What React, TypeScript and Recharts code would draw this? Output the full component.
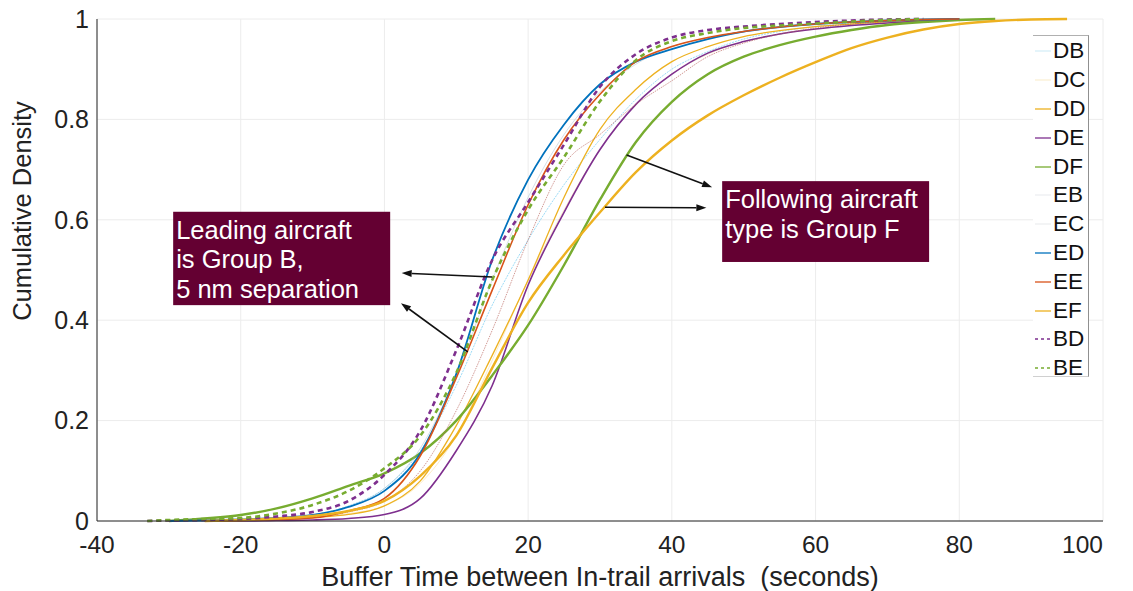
import React from "react";
import {
  LineChart, Line, XAxis, YAxis, CartesianGrid, ReferenceArea, ReferenceLine, Label,
} from "recharts";

// buffer time sample points (seconds)
const xs = [-33, -30, -25, -20, -15, -10, -5, 0, 5, 10, 15, 20, 25, 30, 35, 40, 45, 50, 55, 60, 65, 70, 75, 80, 85, 90, 95];

// empirical CDFs per leader/follower pair
const DB = [null, null, 0, 0.002, 0.005, 0.012, 0.03, 0.065, 0.14, 0.27, 0.43, 0.56, 0.67, 0.76, 0.84, 0.9, 0.935, 0.96, 0.975, 0.985, 0.992, 0.996, 0.999, 1, null, null, null];
const DC = [null, null, 0, 0.001, 0.003, 0.007, 0.015, 0.03, 0.075, 0.17, 0.32, 0.48, 0.62, 0.74, 0.83, 0.89, 0.93, 0.955, 0.97, 0.98, 0.988, 0.994, 0.998, 1, null, null, null];
const DD = [null, null, 0, 0.001, 0.003, 0.007, 0.013, 0.03, 0.08, 0.19, 0.33, 0.48, 0.645, 0.78, 0.86, 0.915, 0.945, 0.965, 0.977, 0.985, 0.99, 0.995, 0.998, 1, null, null, null];
const DE = [null, null, 0, 0, 0.001, 0.002, 0.005, 0.013, 0.045, 0.14, 0.27, 0.47, 0.615, 0.74, 0.83, 0.89, 0.932, 0.955, 0.97, 0.98, 0.987, 0.992, 0.996, 1, null, null, null];
const DF = [null, 0, 0.005, 0.012, 0.025, 0.045, 0.07, 0.095, 0.135, 0.2, 0.29, 0.39, 0.51, 0.64, 0.755, 0.835, 0.89, 0.925, 0.948, 0.965, 0.978, 0.988, 0.994, 0.998, 1, null, null];
const EB = [null, null, 0, 0.002, 0.005, 0.012, 0.028, 0.065, 0.145, 0.29, 0.48, 0.645, 0.77, 0.855, 0.91, 0.945, 0.962, 0.975, 0.984, 0.99, 0.994, 0.997, 0.999, 1, null, null, null];
const EC = [null, null, 0, 0.001, 0.003, 0.008, 0.018, 0.04, 0.1, 0.22, 0.38, 0.56, 0.71, 0.77, 0.83, 0.877, 0.925, 0.952, 0.97, 0.982, 0.99, 0.995, 0.998, 1, null, null, null];
const ED = [null, 0, 0.001, 0.003, 0.006, 0.012, 0.028, 0.06, 0.135, 0.293, 0.52, 0.68, 0.79, 0.87, 0.915, 0.94, 0.96, 0.975, 0.984, 0.99, 0.994, 0.997, 0.999, 1, null, null, null];
const EE = [null, null, 0, 0.001, 0.003, 0.006, 0.02, 0.045, 0.13, 0.285, 0.46, 0.63, 0.76, 0.85, 0.915, 0.945, 0.963, 0.975, 0.984, 0.99, 0.994, 0.997, 0.999, 1, null, null, null];
const EF = [null, null, 0, 0.002, 0.005, 0.01, 0.02, 0.04, 0.09, 0.17, 0.305, 0.435, 0.53, 0.615, 0.695, 0.758, 0.808, 0.848, 0.883, 0.914, 0.942, 0.963, 0.979, 0.99, 0.996, 0.999, 1];
const BD = [0, 0.001, 0.002, 0.004, 0.009, 0.018, 0.04, 0.092, 0.18, 0.34, 0.52, 0.635, 0.75, 0.865, 0.93, 0.963, 0.978, 0.985, 0.99, 0.994, 0.997, 0.999, 1, null, null, null, null];
const BE = [0, 0.002, 0.004, 0.006, 0.015, 0.032, 0.06, 0.105, 0.17, 0.295, 0.48, 0.62, 0.725, 0.836, 0.918, 0.956, 0.972, 0.982, 0.987, 0.991, 0.995, 0.998, 1, null, null, null, null];

const xTicks = [-40, -20, 0, 20, 40, 60, 80, 100];
const yTicks = [0, 0.2, 0.4, 0.6, 0.8, 1];

const seriesValues: Record<string, (number | null)[]> = { DB, DC, DD, DE, DF, EB, EC, ED, EE, EF, BD, BE };

const styles: Record<string, { color: string; width: number; dash?: string; opacity?: number }> = {
  DB: { color: "#4DBEEE", width: 0.8, dash: "2 1", opacity: 0.7 },
  DC: { color: "#EDB120", width: 0.7, opacity: 0.35 },
  DD: { color: "#EDB120", width: 1.3 },
  DE: { color: "#7E2F8E", width: 1.6 },
  DF: { color: "#77AC30", width: 2.4 },
  EB: { color: "#9db4c6", width: 0.7, opacity: 0.6 },
  EC: { color: "#b8625a", width: 0.8, dash: "1.5 1", opacity: 0.8 },
  ED: { color: "#0072BD", width: 1.8 },
  EE: { color: "#D95319", width: 1.6 },
  EF: { color: "#EDB120", width: 2.4 },
  BD: { color: "#7E2F8E", width: 2.6, dash: "5 4" },
  BE: { color: "#77AC30", width: 2.6, dash: "5 4" },
};

// the thin series show up washed out in the key
const legendSamples: Record<string, string> = {
  DB: "#d6eef8", DC: "#fbf0d4", EB: "#eceff2", EC: "#eceef0",
};

const names = Object.keys(seriesValues);
const data = xs.map((x, i) => {
  const row: Record<string, number | null> = { x };
  names.forEach((n) => { row[n] = seriesValues[n][i]; });
  return row;
});

const font = '"Liberation Sans", Arial, Helvetica, sans-serif';
const maroon = "#640032";
const ink = "#222";

// arrow drawn from first segment point to second
function Arrow(props: any) {
  const { x1, y1, x2, y2 } = props;
  if ([x1, y1, x2, y2].some((v) => typeof v !== "number")) return null;
  const a = Math.atan2(y2 - y1, x2 - x1);
  const len = 10, half = 3.5;
  const bx = x2 - len * Math.cos(a), by = y2 - len * Math.sin(a);
  const px = -Math.sin(a) * half, py = Math.cos(a) * half;
  return (
    <g>
      <line x1={x1} y1={y1} x2={bx} y2={by} stroke="#111" strokeWidth={1.6} />
      <polygon points={`${x2},${y2} ${bx + px},${by + py} ${bx - px},${by - py}`} fill="#111" />
    </g>
  );
}

function NoteBox(lines: string[]) {
  return (props: any) => {
    const { x, y, width, height } = props;
    return (
      <g>
        <rect x={x} y={y} width={width} height={height} fill={maroon} />
        {lines.map((t, i) => (
          <text key={i} x={x + 3} y={y + 27 + i * 29.5} fill="#fff" fontSize={25.5} fontFamily={font}>{t}</text>
        ))}
      </g>
    );
  };
}

// last label sits flush with the end of the axis
function XTick(props: any) {
  const { x, y, payload } = props;
  const last = payload.value === xTicks[xTicks.length - 1];
  return (
    <text x={x} y={y} dy="0.71em" textAnchor={last ? "end" : "middle"} fontSize={24.5} fill={ink} fontFamily={font}>
      {payload.value}
    </text>
  );
}

function LegendBox() {
  return (
    <div style={{ position: "absolute", left: 1033, top: 35, width: 56, height: 342, background: "#fff", borderTop: "1px solid #b0b0b0", borderRight: "1px solid #909090", borderBottom: "1px solid #d0d0d0", fontFamily: font, boxSizing: "border-box", paddingTop: 1 }}>
      {names.map((n) => {
        const s = styles[n];
        const c = legendSamples[n] || s.color;
        return (
          <div key={n} style={{ height: 28.8, display: "flex", alignItems: "center" }}>
            <svg width={19} height={10} style={{ marginLeft: 1 }}>
              <line x1={1} y1={5} x2={17} y2={5} stroke={c} strokeWidth={1.3} strokeDasharray={n === "BD" || n === "BE" ? "3 3" : undefined} />
            </svg>
            <span style={{ fontSize: 22.5, color: "#111", lineHeight: "22px" }}>{n}</span>
          </div>
        );
      })}
    </div>
  );
}

export default function App() {
  return (
    <div style={{ position: "absolute", left: 0, top: 0, width: 1133, height: 591, background: "#fff" }}>
      <LineChart width={1133} height={591} data={data} margin={{ top: 19, right: 30, bottom: 0, left: 0 }}>
        <CartesianGrid stroke="#ececec" strokeWidth={1} />
        <XAxis
          dataKey="x" type="number" domain={[-40, 100]} ticks={xTicks} height={70}
          tickLine={false} tickSize={0} tickMargin={15} stroke="#262626"
          tick={<XTick />} allowDataOverflow
        >
          <Label content={() => (
            <text x={600} y={586} textAnchor="middle" fontSize={27} fill={ink} fontFamily={font} style={{ whiteSpace: "pre" }}>
              {"Buffer Time between In-trail arrivals  (seconds)"}
            </text>
          )} />
        </XAxis>
        <YAxis
          type="number" domain={[0, 1]} ticks={yTicks} width={97}
          tickLine={false} tickSize={0} tickMargin={8} stroke="#262626"
          tick={{ fontSize: 25, fill: ink, fontFamily: font }}
        >
          <Label content={() => (
            <text x={31} y={211} transform="rotate(-90 31 211)" textAnchor="middle" fontSize={25.5} fill={ink} fontFamily={font}>
              Cumulative Density
            </text>
          )} />
        </YAxis>
        {names.map((n) => {
          const s = styles[n];
          return (
            <Line
              key={n} dataKey={n} name={n} type="monotone" dot={false} activeDot={false}
              stroke={s.color} strokeWidth={s.width} strokeDasharray={s.dash} strokeOpacity={s.opacity ?? 1}
              isAnimationActive={false} connectNulls={false}
            />
          );
        })}
        <ReferenceArea x1={-29.4} x2={0.8} y1={0.43} y2={0.616} shape={NoteBox(["Leading aircraft", "is Group B,", "5 nm separation"])} />
        <ReferenceArea x1={47} x2={75.8} y1={0.516} y2={0.677} shape={NoteBox(["Following aircraft", "type is Group F"])} />
        <ReferenceLine segment={[{ x: 15, y: 0.486 }, { x: 2.4, y: 0.494 }]} shape={Arrow} />
        <ReferenceLine segment={[{ x: 11.6, y: 0.337 }, { x: 2.3, y: 0.434 }]} shape={Arrow} />
        <ReferenceLine segment={[{ x: 33.7, y: 0.729 }, { x: 45.6, y: 0.665 }]} shape={Arrow} />
        <ReferenceLine segment={[{ x: 30.7, y: 0.625 }, { x: 44.8, y: 0.624 }]} shape={Arrow} />
      </LineChart>
      <LegendBox />
    </div>
  );
}
